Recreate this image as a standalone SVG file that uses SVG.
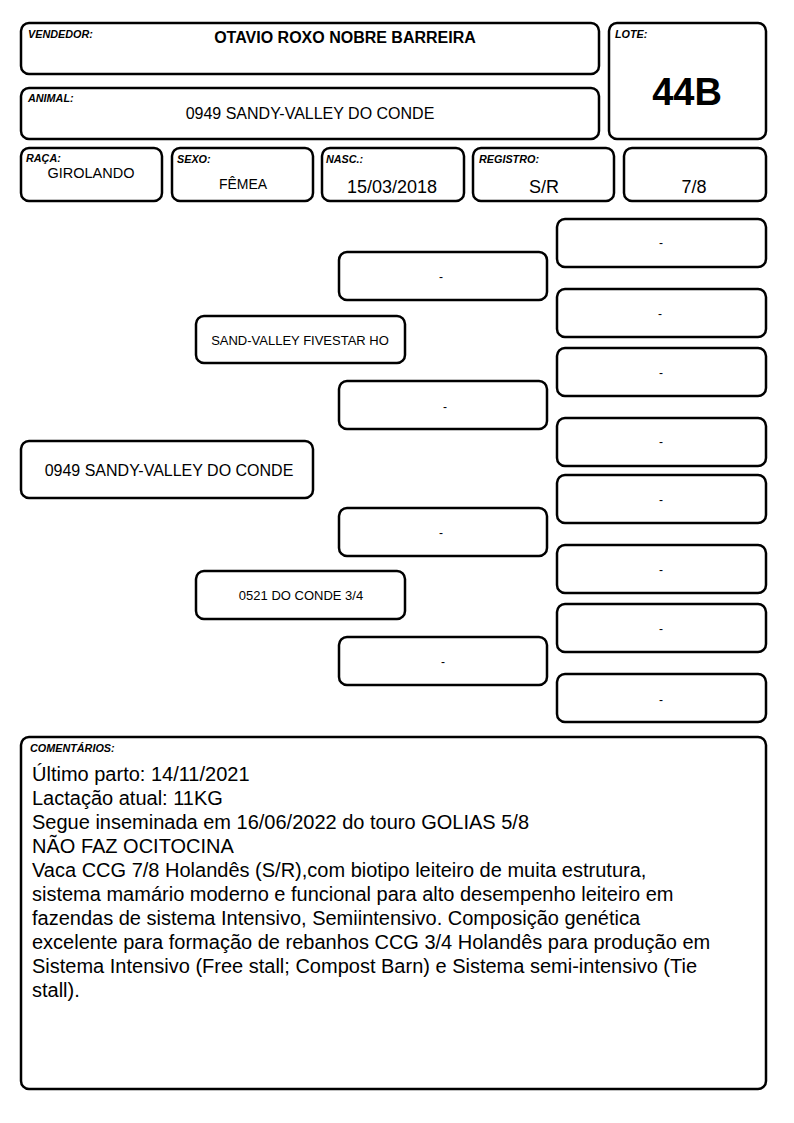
<svg xmlns="http://www.w3.org/2000/svg" width="794" height="1123" viewBox="0 0 794 1123">
<style>
.b{fill:#fff;stroke:#000;stroke-width:2.5}
text{font-family:"Liberation Sans",Arial,sans-serif;fill:#000}
.l{font-size:10.8px;font-weight:bold;font-style:italic}
.c{text-anchor:middle}
.d{font-size:12px;text-anchor:middle}
.p{font-size:13px;text-anchor:middle}
.m{font-size:20px}
</style>
<rect width="794" height="1123" fill="#fff"/>
<g id="vendedor"><rect class="b" x="21" y="23" width="578" height="51" rx="8"/><text class="l" x="28" y="38">VENDEDOR:</text><text class="c" x="345" y="43" font-size="16" font-weight="bold">OTAVIO ROXO NOBRE BARREIRA</text></g>
<g id="animal"><rect class="b" x="21" y="88" width="578" height="51" rx="8"/><text class="l" x="28" y="102">ANIMAL:</text><text class="c" x="310" y="119" font-size="16">0949 SANDY-VALLEY DO CONDE</text></g>
<g id="lote"><rect class="b" x="609" y="23" width="157" height="116" rx="8"/><text class="l" x="615" y="38">LOTE:</text><text class="c" x="687" y="105" font-size="38" font-weight="bold">44B</text></g>
<g id="raca"><rect class="b" x="21" y="148" width="141" height="53" rx="8"/><text class="l" x="26" y="162">RAÇA:</text><text class="c" x="91" y="178" font-size="14.5">GIROLANDO</text></g>
<g id="sexo"><rect class="b" x="172" y="148" width="141" height="53" rx="8"/><text class="l" x="177" y="163">SEXO:</text><text class="c" x="243" y="189" font-size="14">FÊMEA</text></g>
<g id="nasc"><rect class="b" x="322" y="148" width="142" height="53" rx="8"/><text class="l" x="326" y="163">NASC.:</text><text class="c" x="392" y="193" font-size="18">15/03/2018</text></g>
<g id="registro"><rect class="b" x="473" y="148" width="141" height="53" rx="8"/><text class="l" x="479" y="163">REGISTRO:</text><text class="c" x="544" y="193" font-size="18">S/R</text></g>
<g id="grau"><rect class="b" x="624" y="148" width="142" height="53" rx="8"/><text class="c" x="694" y="193" font-size="18">7/8</text></g>
<g id="connectors"></g>
<g id="animal-ped"><rect class="b" x="21" y="441" width="292" height="57" rx="8"/><text class="c" x="169" y="476" font-size="16">0949 SANDY-VALLEY DO CONDE</text></g>
<g id="pai"><rect class="b" x="196" y="316" width="209" height="47" rx="8"/><text class="p" x="300" y="345">SAND-VALLEY FIVESTAR HO</text></g>
<g id="mae"><rect class="b" x="196" y="571" width="209" height="48" rx="8"/><text class="p" x="301" y="600">0521 DO CONDE 3/4</text></g>
<g id="m1"><rect class="b" x="339" y="252" width="208" height="48" rx="8"/><text class="d" x="441" y="281">-</text></g>
<g id="m2"><rect class="b" x="339" y="381" width="208" height="48" rx="8"/><text class="d" x="445" y="411">-</text></g>
<g id="m3"><rect class="b" x="339" y="508" width="208" height="48" rx="8"/><text class="d" x="441" y="537">-</text></g>
<g id="m4"><rect class="b" x="339" y="637" width="208" height="48" rx="8"/><text class="d" x="443" y="666">-</text></g>
<g id="r1"><rect class="b" x="557" y="219" width="209" height="48" rx="8"/><text class="d" x="661" y="247">-</text></g>
<g id="r2"><rect class="b" x="557" y="289" width="209" height="48" rx="8"/><text class="d" x="660" y="318">-</text></g>
<g id="r3"><rect class="b" x="557" y="348" width="209" height="48" rx="8"/><text class="d" x="661" y="377">-</text></g>
<g id="r4"><rect class="b" x="557" y="418" width="209" height="48" rx="8"/><text class="d" x="661" y="446">-</text></g>
<g id="r5"><rect class="b" x="557" y="475" width="209" height="48" rx="8"/><text class="d" x="661" y="504">-</text></g>
<g id="r6"><rect class="b" x="557" y="545" width="209" height="48" rx="8"/><text class="d" x="661" y="574">-</text></g>
<g id="r7"><rect class="b" x="557" y="604" width="209" height="48" rx="8"/><text class="d" x="661" y="633">-</text></g>
<g id="r8"><rect class="b" x="557" y="674" width="209" height="48" rx="8"/><text class="d" x="661" y="704">-</text></g>
<g id="comentarios"><rect class="b" x="21" y="737" width="745" height="352" rx="8"/><text class="l" x="30" y="752" font-size="9">COMENTÁRIOS:</text>
<text class="m" x="32" y="781">Último parto: 14/11/2021</text>
<text class="m" x="32" y="805">Lactação atual: 11KG</text>
<text class="m" x="32" y="829">Segue inseminada em 16/06/2022 do touro GOLIAS 5/8</text>
<text class="m" x="32" y="853">NÃO FAZ OCITOCINA</text>
<text class="m" x="32" y="877">Vaca CCG 7/8 Holandês (S/R),com biotipo leiteiro de muita estrutura,</text>
<text class="m" x="32" y="901">sistema mamário moderno e funcional para alto desempenho leiteiro em</text>
<text class="m" x="32" y="925">fazendas de sistema Intensivo, Semiintensivo. Composição genética</text>
<text class="m" x="32" y="949">excelente para formação de rebanhos CCG 3/4 Holandês para produção em</text>
<text class="m" x="32" y="973">Sistema Intensivo (Free stall; Compost Barn) e Sistema semi-intensivo (Tie</text>
<text class="m" x="32" y="997">stall).</text>
</g>
</svg>
